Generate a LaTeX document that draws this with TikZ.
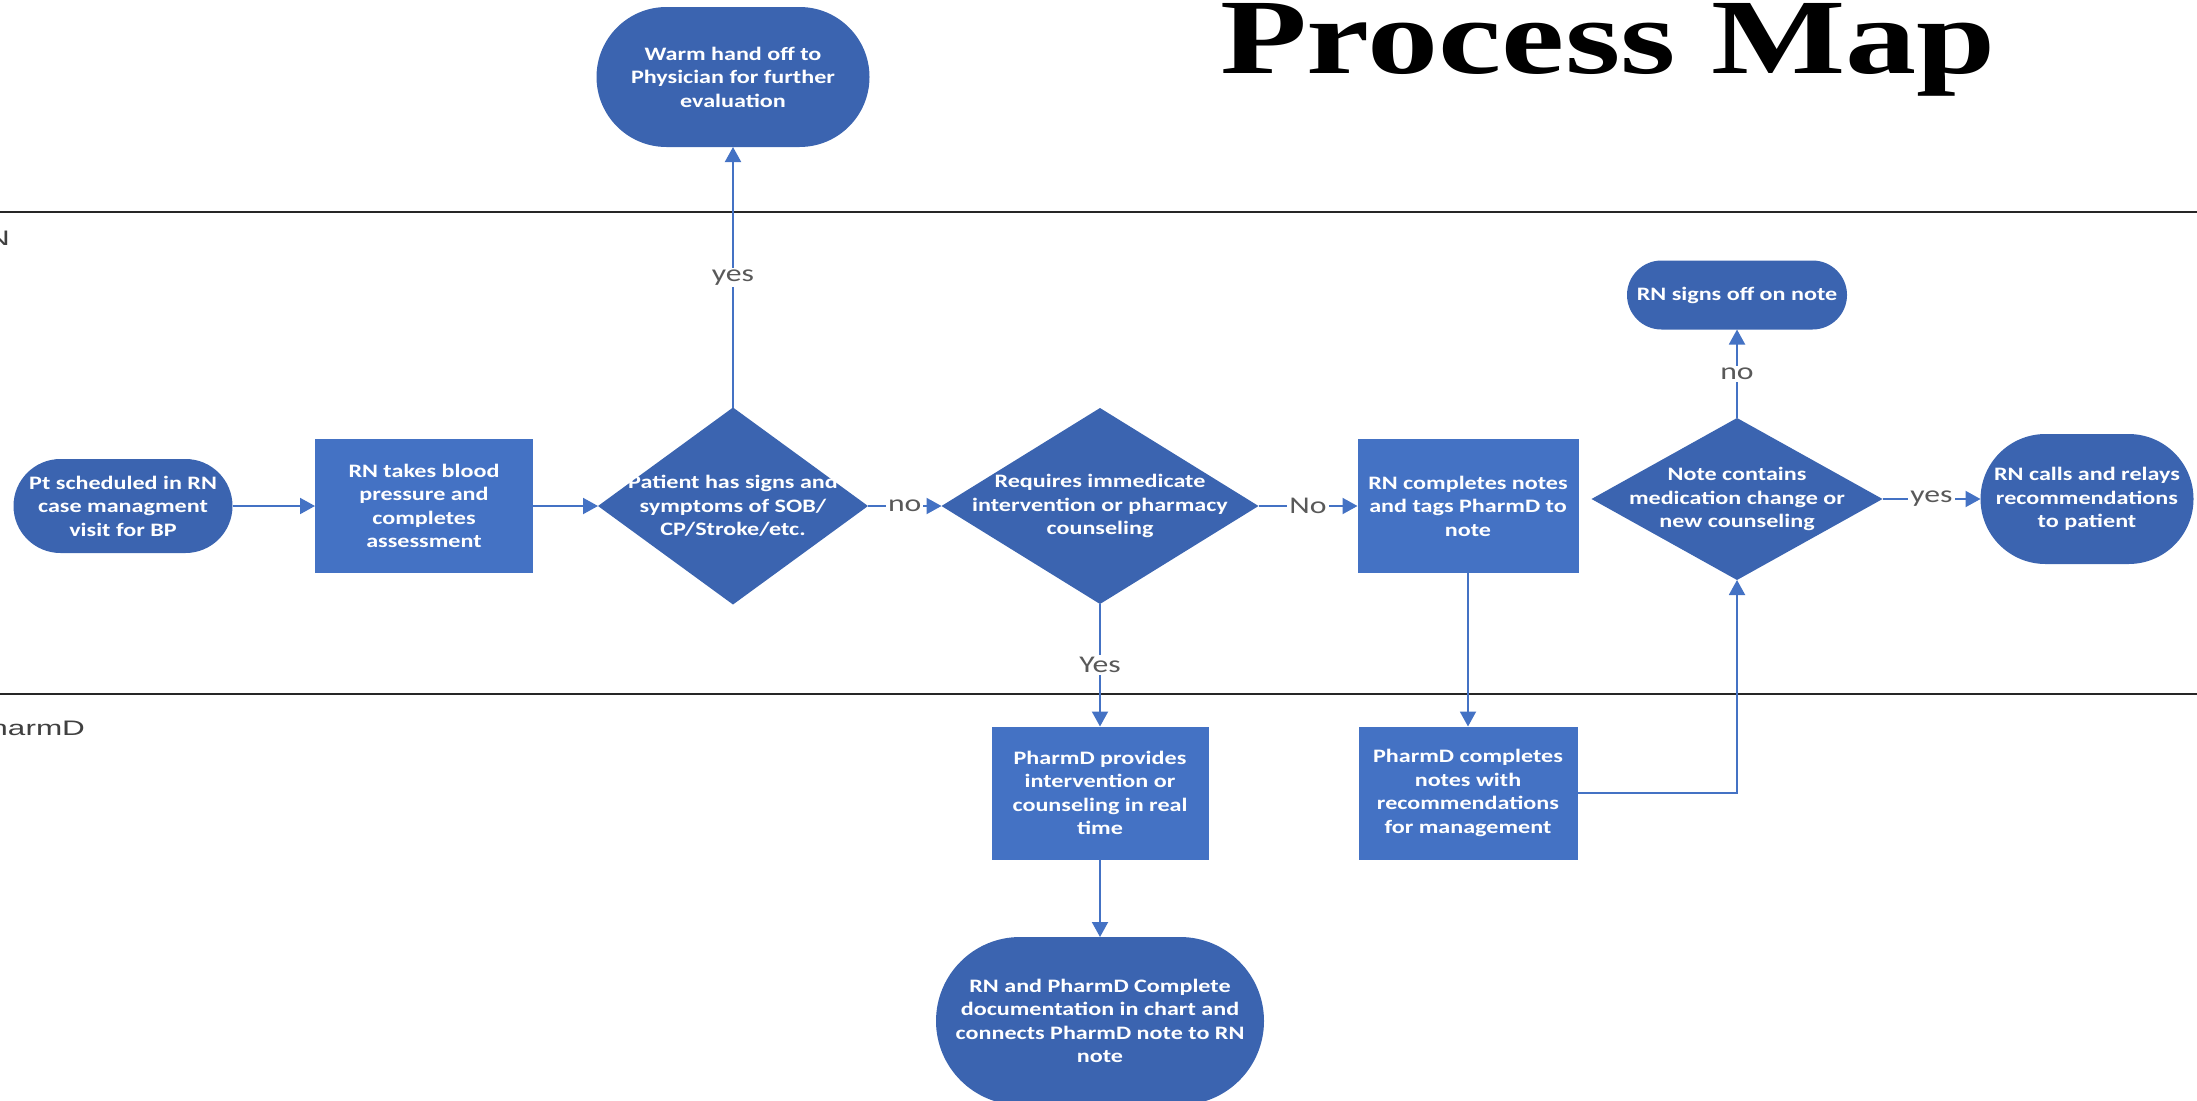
\documentclass[tikz,border=0pt]{standalone}
\usepackage{fontspec}
\usepackage{graphicx}
\usetikzlibrary{arrows.meta,shapes.geometric}
\newfontfamily\boxfont[FakeStretch=1.27]{Carlito}
\newfontfamily\lblfont[FakeStretch=1.32]{Carlito}
\newfontfamily\titlefont[FakeStretch=1.33]{Liberation Serif}
\newfontfamily\lanefont[FakeStretch=1.5]{Liberation Sans}
\definecolor{rectblue}{HTML}{4472C4}
\definecolor{shapeblue}{HTML}{3B64B0}
\definecolor{lblgray}{HTML}{595959}
\definecolor{lanegray}{HTML}{404040}
\begin{document}
\begin{tikzpicture}[x=1pt,y=-1pt,
  every node/.style={inner sep=0pt, outer sep=0pt},
  boxtext/.style={text=white, align=center, font=\boxfont\bfseries\fontsize{19}{23.5}\selectfont},
  proc/.style={rectangle, fill=rectblue, boxtext},
  term/.style={rectangle, fill=shapeblue, boxtext},
  decision/.style={diamond, fill=shapeblue},
  conn/.style={draw=rectblue, line width=2pt, -{Triangle[length=15pt,width=16pt]}},
  lbl/.style={fill=white, text=lblgray, inner sep=2pt, font=\lblfont\fontsize{24}{26}\selectfont},
  lane/.style={draw=black!85, line width=2.5pt},
  lanelabel/.style={anchor=base east, text=lanegray, font=\lanefont\fontsize{21}{24}\selectfont}]
\useasboundingbox (0,0) rectangle (2197,1100);

% title and swimlanes
\node[anchor=base west, font=\titlefont\bfseries\fontsize{107}{110}\selectfont] (title) at (1220,73) {Process Map};
\draw[lane] (0,212) -- (2197,212);
\draw[lane] (0,694) -- (2197,694);
\node[lanelabel] (rnlane) at (10,245) {RN};
\node[lanelabel] (pharmlane) at (85,735) {PharmD};

% nodes
\node[term, minimum width=219pt, minimum height=94pt, rounded corners=47pt] (start) at (123,506)
  {Pt scheduled in RN\\case managment\\visit for BP};
\node[proc, minimum width=218pt, minimum height=134pt] (bp) at (424,506)
  {RN takes blood\\pressure and\\completes\\assessment};
\node[decision, minimum width=270pt, minimum height=197pt] (d1) at (733,506) {};
\node[boxtext] (d1t) at (d1.center) {Patient has signs and\\symptoms of SOB/\\CP/Stroke/etc.};
\node[term, minimum width=273pt, minimum height=140pt, rounded corners=70pt] (warm) at (733,77)
  {Warm hand off to\\Physician for further\\evaluation};
\node[decision, minimum width=317pt, minimum height=196pt] (d2) at (1100,506) {};
\node[boxtext] (d2t) at (d2.center) {Requires immedicate\\intervention or pharmacy\\counseling};
\node[proc, minimum width=217pt, minimum height=133pt] (realtime) at (1100,793)
  {PharmD provides\\intervention or\\counseling in real\\time};
\node[term, minimum width=328pt, minimum height=168pt, rounded corners=84pt] (docs) at (1100,1021)
  {RN and PharmD Complete\\documentation in chart and\\connects PharmD note to RN\\note};
\node[proc, minimum width=221pt, minimum height=134pt] (tags) at (1468,506)
  {RN completes notes\\and tags PharmD to\\note};
\node[proc, minimum width=219pt, minimum height=133pt] (recs) at (1468,793)
  {PharmD completes\\notes with\\recommendations\\for management};
\node[decision, minimum width=291pt, minimum height=162pt] (d3) at (1737,499) {};
\node[boxtext] (d3t) at (d3.center) {Note contains\\medication change or\\new counseling};
\node[term, minimum width=220pt, minimum height=69pt, rounded corners=34.5pt] (signoff) at (1737,295)
  {RN signs off on note};
\node[term, minimum width=213pt, minimum height=130pt, rounded corners=65pt] (calls) at (2087,499)
  {RN calls and relays\\recommendations\\to patient};

% connectors
\draw[conn] (start.east) -- (bp.west);
\draw[conn] (bp.east) -- (d1.west);
\draw[conn] (d1.north) -- node[lbl] (lyes1) {yes} (warm.south);
\draw[conn] (d1.east) -- node[lbl] (lno1) {no} (d2.west);
\draw[conn] (d2.east) -- node[lbl] (lno2) {No} (tags.west);
\draw[conn] (d2.south) -- node[lbl] (lyes2) {Yes} (realtime.north);
\draw[conn] (realtime.south) -- (docs.north);
\draw[conn] (tags.south) -- (recs.north);
\draw[conn] (recs.east) -| (d3.south);
\draw[conn] (d3.north) -- node[lbl] (lno3) {no} (signoff.south);
\draw[conn] (d3.east) -- node[lbl] (lyes3) {yes} (calls.west);
\end{tikzpicture}
\end{document}
